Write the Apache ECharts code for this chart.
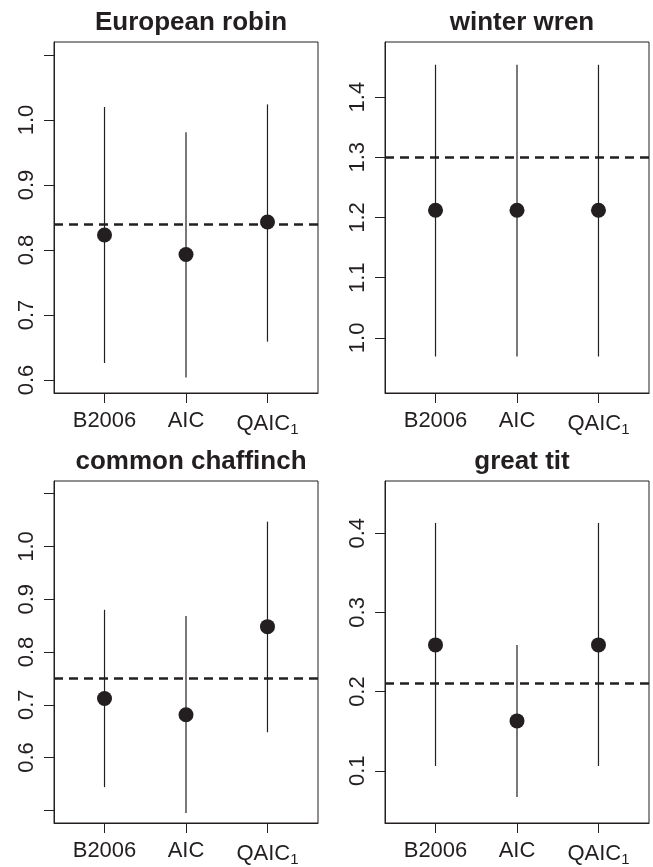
<!DOCTYPE html>
<html>
<head>
<meta charset="utf-8">
<script src="https://cdn.jsdelivr.net/npm/echarts@6/dist/echarts.min.js"></script>
<style>
  html, body { margin: 0; padding: 0; background: #fff; }
  #chart { width: 653px; height: 867px; }
</style>
</head>
<body>
<div id="chart"></div>
<script>
// Methods on the x axis
var methods = ['B2006', 'AIC', 'QAIC1'];

// European robin
var robinEst = [0.823, 0.793, 0.843];
var robinLo = [0.626, 0.604, 0.659];
var robinHi = [1.020, 0.981, 1.024];
var robinRef = 0.84;
var robinTicks = [0.6, 0.7, 0.8, 0.9, 1.0, 1.1];
var robinLabels = [0.6, 0.7, 0.8, 0.9, 1.0];

// winter wren
var wrenEst = [1.212, 1.212, 1.212];
var wrenLo = [0.969, 0.969, 0.969];
var wrenHi = [1.454, 1.454, 1.454];
var wrenRef = 1.30;
var wrenTicks = [1.0, 1.1, 1.2, 1.3, 1.4];
var wrenLabels = [1.0, 1.1, 1.2, 1.3, 1.4];

// common chaffinch
var chaffEst = [0.712, 0.681, 0.848];
var chaffLo = [0.544, 0.495, 0.648];
var chaffHi = [0.880, 0.868, 1.047];
var chaffRef = 0.75;
var chaffTicks = [0.5, 0.6, 0.7, 0.8, 0.9, 1.0, 1.1];
var chaffLabels = [0.6, 0.7, 0.8, 0.9, 1.0];

// great tit
var titEst = [0.259, 0.163, 0.259];
var titLo = [0.106, 0.067, 0.106];
var titHi = [0.413, 0.259, 0.413];
var titRef = 0.21;
var titTicks = [0.1, 0.2, 0.3, 0.4];
var titLabels = [0.1, 0.2, 0.3, 0.4];

var INK = '#231f20';
var FONT = '"Liberation Sans", Arial, Helvetica, sans-serif';

// panel layout: title, data, y range, grid box
var panels = [
    { title: 'European robin', est: robinEst, lo: robinLo, hi: robinHi, ref: robinRef,
      ticks: robinTicks, labels: robinLabels, ymin: 0.58, ymax: 1.12,
      left: 54, top: 42, width: 264, height: 351 },
    { title: 'winter wren', est: wrenEst, lo: wrenLo, hi: wrenHi, ref: wrenRef,
      ticks: wrenTicks, labels: wrenLabels, ymin: 0.9084, ymax: 1.4916,
      left: 385, top: 42, width: 264, height: 351 },
    { title: 'common chaffinch', est: chaffEst, lo: chaffLo, hi: chaffHi, ref: chaffRef,
      ticks: chaffTicks, labels: chaffLabels, ymin: 0.476, ymax: 1.124,
      left: 54, top: 481, width: 264, height: 350 },
    { title: 'great tit', est: titEst, lo: titLo, hi: titHi, ref: titRef,
      ticks: titTicks, labels: titLabels, ymin: 0.034, ymax: 0.466,
      left: 385, top: 481, width: 264, height: 350 }
];

var titles = [], grids = [], xAxes = [], yAxes = [], series = [];

panels.forEach(function(p, i) {
    titles.push({
        text: p.title,
        left: p.left + p.width / 2,
        top: p.top - 37,
        textAlign: 'center',
        textStyle: { fontSize: 26, fontWeight: 'bold', color: INK, fontFamily: FONT }
    });

    grids.push({
        left: p.left, top: p.top, width: p.width, height: p.height,
        show: true, borderColor: INK, borderWidth: 1, backgroundColor: 'transparent'
    });

    xAxes.push({
        type: 'value', gridIndex: i, min: 0.38, max: 3.62,
        splitLine: { show: false },
        axisLine: { show: true, lineStyle: { color: INK, width: 1 } },
        axisTick: { show: true, length: 10, customValues: [1, 2, 3], lineStyle: { color: INK, width: 1 } },
        axisLabel: {
            customValues: [1, 2, 3], margin: 17, color: INK, fontSize: 22, fontFamily: FONT,
            formatter: function(v) {
                var k = Math.round(v) - 1;
                if (k === 2) return '{m|QAIC}{s|1}';
                return methods[k];
            },
            rich: {
                m: { fontSize: 22, fontFamily: FONT, color: INK },
                s: { fontSize: 15, fontFamily: FONT, color: INK, verticalAlign: 'bottom', padding: [12, 0, 0, 0] }
            }
        }
    });

    yAxes.push({
        type: 'value', gridIndex: i, min: p.ymin, max: p.ymax,
        splitLine: { show: false },
        axisLine: { show: true, lineStyle: { color: INK, width: 1 } },
        axisTick: { show: true, length: 10, customValues: p.ticks, lineStyle: { color: INK, width: 1 } },
        axisLabel: {
            customValues: p.labels, rotate: 90, margin: 16, color: INK, fontSize: 22, fontFamily: FONT,
            formatter: function(v) { return v.toFixed(1); }
        }
    });

    var bars = p.lo.map(function(lo, k) { return [k + 1, lo, p.hi[k]]; });
    series.push({
        type: 'custom', xAxisIndex: i, yAxisIndex: i,
        data: bars,
        renderItem: function(params, api) {
            var x = api.value(0);
            var a = api.coord([x, api.value(1)]);
            var b = api.coord([x, api.value(2)]);
            return {
                type: 'line',
                shape: { x1: a[0], y1: a[1], x2: b[0], y2: b[1] },
                style: { stroke: INK, lineWidth: 1.2 }
            };
        }
    });

    series.push({
        type: 'scatter', xAxisIndex: i, yAxisIndex: i,
        symbol: 'circle', symbolSize: 15,
        itemStyle: { color: INK, opacity: 1 },
        data: p.est.map(function(v, k) { return [k + 1, v]; }),
        markLine: {
            silent: true, symbol: 'none', label: { show: false },
            lineStyle: { color: INK, width: 2.5, type: [9, 6], opacity: 1 },
            data: [{ yAxis: p.ref }]
        },
        z: 3
    });
});

var chart = echarts.init(document.getElementById('chart'));
chart.setOption({
    animation: false,
    backgroundColor: '#fff',
    title: titles,
    grid: grids,
    xAxis: xAxes,
    yAxis: yAxes,
    series: series
});

window.addEventListener('resize', function() {
    chart.resize();
});
</script>
</body>
</html>
